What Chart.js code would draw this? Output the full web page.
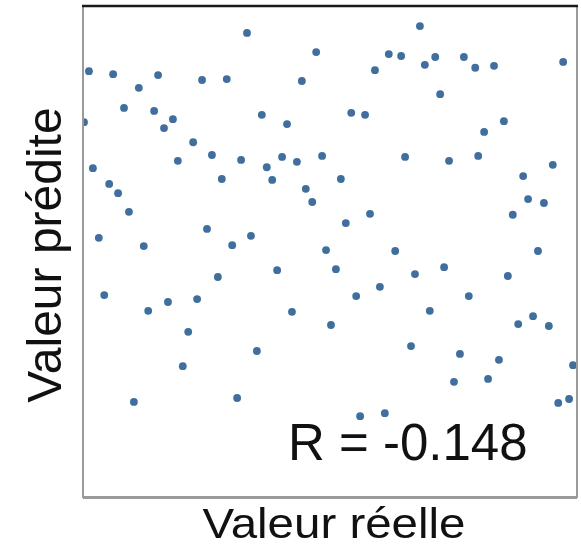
<!DOCTYPE html>
<html>
<head>
<meta charset="utf-8">
<title>Valeur prédite vs réelle</title>
<script src="https://cdn.jsdelivr.net/npm/chart.js@4/dist/chart.umd.min.js"></script>
<style>
  html, body { margin: 0; padding: 0; background: #fff; }
  #wrap { width: 581px; height: 547px; }
</style>
</head>
<body>
<div id="wrap"><canvas id="scatter" width="581" height="547"></canvas></div>
<script>
// valeurs réelles (x) et prédites (y), échelle 0-100
const reelle = [
  33.2, 47.2, 1.2, 6.1, 15.2, 11.3, 24.1, 29.1, 44.3, 8.3,
  14.4, 18.2, 16.4, 0.2, 36.2, 41.3, 22.3, 26.1, 19.2, 32.0,
  37.2, 40.3, 43.3, 48.4, 2.0, 28.1, 38.3, 5.3, 7.1, 45.1,
  46.4, 9.3, 25.1, 3.2, 12.3, 30.2, 34.0, 49.2, 68.2, 61.9,
  64.4, 59.1, 69.2, 71.3, 77.1, 79.4, 83.2, 97.2, 72.3, 54.3,
  57.1, 85.2, 81.2, 65.2, 74.1, 80.0, 95.1, 89.1, 52.2, 90.1,
  93.3, 87.0, 58.1, 53.2, 63.2, 92.1, 39.3, 27.3, 51.2, 4.3,
  13.2, 17.2, 23.1, 42.3, 50.2, 21.3, 35.2, 20.2, 31.2, 10.3,
  67.2, 73.1, 86.0, 55.3, 60.1, 78.1, 70.2, 88.1, 91.1, 94.3,
  66.4, 76.3, 84.2, 99.2, 75.1, 82.0, 96.2, 98.4, 56.1, 61.1
];
const predite = [
  94.7, 90.8, 86.9, 86.3, 86.1, 83.5, 85.1, 85.3, 84.9, 79.4,
  78.8, 77.1, 75.3, 76.5, 78.0, 76.1, 72.4, 69.8, 68.6, 68.8,
  67.3, 69.4, 68.4, 69.6, 67.1, 64.9, 64.7, 63.9, 62.0, 62.9,
  60.2, 58.2, 54.7, 52.9, 51.2, 51.4, 53.3, 50.4, 96.1, 90.4,
  90.0, 87.1, 88.2, 89.8, 89.8, 87.6, 88.0, 88.8, 82.2, 78.4,
  78.0, 76.7, 74.5, 69.4, 68.6, 69.6, 67.8, 65.5, 64.9, 60.8,
  60.0, 57.6, 57.8, 55.9, 50.2, 50.2, 46.3, 44.9, 46.5, 41.2,
  38.0, 39.8, 40.4, 37.8, 35.1, 33.7, 29.8, 26.7, 20.2, 19.4,
  45.5, 46.9, 45.1, 41.0, 42.9, 41.0, 38.0, 35.3, 36.9, 34.9,
  30.8, 29.2, 28.0, 26.9, 23.5, 24.1, 19.2, 20.0, 16.5, 17.1
];
const titreX = 'Valeur réelle';
const titreY = 'Valeur prédite';
const correlation = -0.148;

const points = reelle.map((x, i) => ({ x: x, y: predite[i] }));

// cadre + titres + coefficient, dessinés à la main
const habillage = {
  id: 'habillage',
  afterDraw(chart) {
    const { ctx, chartArea: a } = chart;
    ctx.save();

    // cadre : haut foncé, autres côtés gris
    ctx.lineWidth = 2;
    ctx.strokeStyle = '#9a9a9a';
    ctx.beginPath();
    ctx.moveTo(a.left, a.top);
    ctx.lineTo(a.left, a.bottom);
    ctx.lineTo(a.right, a.bottom);
    ctx.lineTo(a.right, a.top);
    ctx.stroke();
    ctx.lineWidth = 3;
    ctx.beginPath();
    ctx.moveTo(a.left, a.bottom + 0.5);
    ctx.lineTo(a.right, a.bottom + 0.5);
    ctx.stroke();
    ctx.strokeStyle = '#1a1a1a';
    ctx.lineWidth = 2.5;
    ctx.beginPath();
    ctx.moveTo(a.left - 1, a.top - 1);
    ctx.lineTo(a.right + 1, a.top - 1);
    ctx.stroke();

    ctx.fillStyle = '#111';
    ctx.textBaseline = 'alphabetic';

    // titre de l'axe x, légèrement étiré
    ctx.save();
    ctx.font = '42px "Liberation Sans", Arial, sans-serif';
    ctx.textAlign = 'center';
    ctx.translate((a.left + a.right) / 2 + 4, 538);
    ctx.scale(1.13, 1);
    ctx.fillText(titreX, 0, 0);
    ctx.restore();

    // titre de l'axe y
    ctx.save();
    ctx.font = '48px "Liberation Sans", Arial, sans-serif';
    ctx.textAlign = 'center';
    ctx.translate(61, 255);
    ctx.rotate(-Math.PI / 2);
    ctx.fillText(titreY, 0, 0);
    ctx.restore();

    // coefficient de corrélation
    ctx.font = '51px "Liberation Sans", Arial, sans-serif';
    ctx.textAlign = 'left';
    ctx.fillText('R = ' + correlation.toFixed(3), 288, 460);

    ctx.restore();
  }
};

new Chart(document.getElementById('scatter'), {
  type: 'scatter',
  data: {
    datasets: [{
      data: points,
      pointRadius: 3.9,
      pointBackgroundColor: '#3f6fa0',
      pointBorderWidth: 0,
      pointHoverRadius: 3.9
    }]
  },
  options: {
    responsive: false,
    animation: false,
    layout: { padding: { left: 83, right: 4, top: 7, bottom: 50 } },
    plugins: { legend: { display: false }, tooltip: { enabled: false } },
    scales: {
      x: { type: 'linear', min: 0, max: 100, display: false },
      y: { type: 'linear', min: 0, max: 100, display: false }
    }
  },
  plugins: [habillage]
});
</script>
</body>
</html>
